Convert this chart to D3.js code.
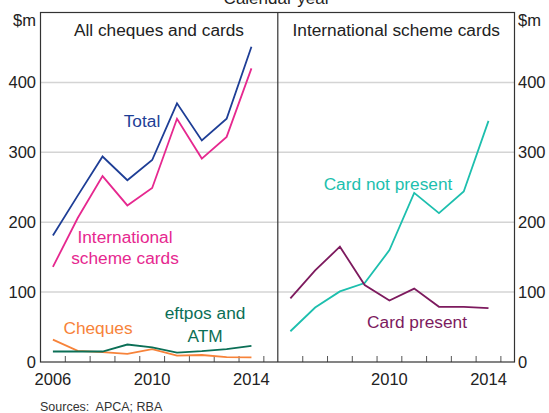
<!DOCTYPE html>
<html><head><meta charset="utf-8">
<script src="https://cdn.jsdelivr.net/npm/d3@7"></script>
<style>body{margin:0;background:#fff}svg{display:block;font-family:"Liberation Sans",Arial,sans-serif}</style>
</head><body><svg id="c" width="549" height="413"></svg>
<script>
const years = [2006,2007,2008,2009,2010,2011,2012,2013,2014];
const total = [181,238,294,260,289,370,317,348,451];
const intlCards = [136,206,266,224,249,348,291,322,420];
const cheques = [32,16,14,11.5,18.5,9,10,7,6.5];
const eftpos = [15,15,15,25,21,13.5,15.5,18.5,23];
const cardNotPresent = [44,78,101,113,160,242,213,244,345];
const cardPresent = [91,131,165,110,88,105,79,79,77];
const yTicks = [0,100,200,300,400];
const xTickLabels = [2006,2010,2014];

const svg = d3.select("#c");
const plotTop=12.5, plotBottom=362;
const y = d3.scaleLinear().domain([0,500]).range([plotBottom, plotTop]);
const xL = d3.scaleLinear().domain([2006,2015.55]).range([40.5,277.5]);
const xR = d3.scaleLinear().domain([2006,2015.55]).range([278,514.5]);

// gridlines
svg.append("g").selectAll("line").data(yTicks.filter(d=>d>0)).join("line")
  .attr("x1",40.5).attr("x2",514.5).attr("y1",d=>y(d)).attr("y2",d=>y(d))
  .attr("stroke","#d4d4d4").attr("stroke-width",1.5);

// x ticks
const tickYears = d3.range(2007,2016);
[xL,xR].forEach(x=>{
  svg.append("g").selectAll("line").data(tickYears).join("line")
    .attr("x1",d=>x(d)).attr("x2",d=>x(d)).attr("y1",plotBottom).attr("y2",plotBottom-6)
    .attr("stroke","#555").attr("stroke-width",1);
});

// frame
const ax = "#333";
svg.append("rect").attr("x",40.5).attr("y",plotTop).attr("width",514.5-40.5).attr("height",plotBottom-plotTop)
  .attr("fill","none").attr("stroke",ax).attr("stroke-width",1.2);
svg.append("line").attr("x1",xL.range()[1]+0.3).attr("x2",xL.range()[1]+0.3).attr("y1",plotTop).attr("y2",plotBottom)
  .attr("stroke",ax).attr("stroke-width",1.2);

// y labels
svg.append("g").selectAll("text").data(yTicks).join("text")
  .attr("x",36).attr("y",d=>y(d)).attr("dy","0.36em").attr("text-anchor","end")
  .attr("font-size",16.5).attr("fill","#222").text(d=>d);
svg.append("g").selectAll("text").data(yTicks).join("text")
  .attr("x",518).attr("y",d=>y(d)).attr("dy","0.36em").attr("text-anchor","start")
  .attr("font-size",16.5).attr("fill","#222").text(d=>d);
svg.append("text").attr("x",36).attr("y",26).attr("text-anchor","end").attr("font-size",16.5).attr("fill","#222").text("$m");
svg.append("text").attr("x",518).attr("y",26).attr("text-anchor","start").attr("font-size",16.5).attr("fill","#222").text("$m");

// x labels
svg.append("g").selectAll("text").data(xTickLabels).join("text")
  .attr("x",d=>xL(d+0.5)).attr("y",385).attr("text-anchor","middle").attr("font-size",16.5).attr("fill","#222").text(d=>d);
svg.append("g").selectAll("text").data(xTickLabels.filter(d=>d>2006)).join("text")
  .attr("x",d=>xR(d+0.5)).attr("y",385).attr("text-anchor","middle").attr("font-size",16.5).attr("fill","#222").text(d=>d);

// titles
svg.append("text").attr("x",277).attr("y",4).attr("text-anchor","middle").attr("font-size",17).attr("fill","#222").text("Calendar year");
svg.append("text").attr("x",(40.5+277.5)/2).attr("y",36).attr("text-anchor","middle").attr("font-size",17.3).attr("fill","#222").text("All cheques and cards");
svg.append("text").attr("x",(278+514.5)/2).attr("y",36).attr("text-anchor","middle").attr("font-size",17.3).attr("fill","#222").text("International scheme cards");
svg.append("text").attr("x",40).attr("y",411).attr("font-size",12.5).attr("fill","#333").attr("xml:space","preserve").text("Sources:  APCA; RBA");

// lines
const series = [
  {v:total,x:xL,c:"#1e3e96"},
  {v:intlCards,x:xL,c:"#e6288f"},
  {v:cheques,x:xL,c:"#f7833a"},
  {v:eftpos,x:xL,c:"#0b6f56"},
  {v:cardNotPresent,x:xR,c:"#1dbfae"},
  {v:cardPresent,x:xR,c:"#7d1a5e"}
];
series.forEach(s=>{
  const line = d3.line().x((d,i)=>s.x(years[i]+0.5)).y(d=>y(d));
  svg.append("path").attr("d",line(s.v)).attr("fill","none").attr("stroke",s.c).attr("stroke-width",1.8).attr("stroke-linejoin","miter");
});

// labels
const lab = (t,x,yy,c,anchor)=>svg.append("text").attr("x",x).attr("y",yy).attr("text-anchor",anchor||"middle").attr("font-size",17.3).attr("fill",c).text(t);
lab("Total",142,127,"#1e3e96");
lab("International",125,243,"#e6288f");
lab("scheme cards",125,264,"#e6288f");
lab("Cheques",98,334,"#f7833a");
lab("eftpos and",205,319,"#0b6f56");
lab("ATM",205,342,"#0b6f56");
lab("Card not present",388,190,"#1dbfae");
lab("Card present",417,328,"#7d1a5e");
</script></body></html>
